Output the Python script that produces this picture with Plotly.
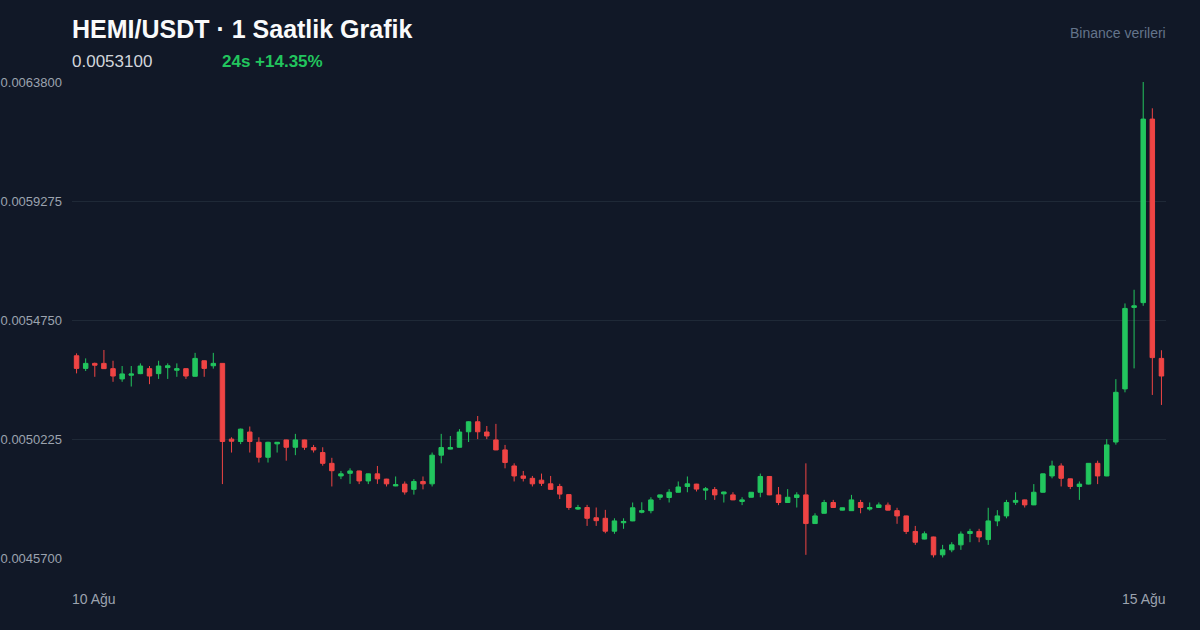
import plotly.graph_objects as go
import pandas as pd

# ---- data ----
opens = [0.005339,0.005291,0.005310,0.005310,0.005290,0.005251,0.005265,0.005271,0.005290,0.005271,
         0.005294,0.005284,0.005290,0.005261,0.005320,0.005301,0.005310,0.005022,0.005013,0.005049,
         0.005010,0.004953,0.005004,0.005019,0.004991,0.005019,0.004990,0.004971,0.004930,0.004882,
         0.004892,0.004901,0.004863,0.004890,0.004870,0.004844,0.004851,0.004831,0.004861,0.004852,
         0.004961,0.004984,0.004991,0.005050,0.005088,0.005049,0.005019,0.004981,0.004920,0.004882,
         0.004873,0.004866,0.004852,0.004842,0.004811,0.004756,0.004762,0.004723,0.004721,0.004672,
         0.004704,0.004711,0.004744,0.004750,0.004801,0.004800,0.004820,0.004842,0.004851,0.004828,
         0.004830,0.004814,0.004810,0.004785,0.004801,0.004820,0.004880,0.004810,0.004781,0.004800,
         0.004810,0.004701,0.004740,0.004781,0.004752,0.004750,0.004781,0.004756,0.004762,0.004771,
         0.004750,0.004730,0.004671,0.004642,0.004650,0.004582,0.004601,0.004620,0.004663,0.004671,
         0.004640,0.004711,0.004730,0.004782,0.004791,0.004772,0.004820,0.004882,0.004920,0.004871,
         0.004842,0.004851,0.004930,0.004882,0.005011,0.005213,0.005523,0.005541,0.006239,0.005329]
highs = [0.005348,0.005329,0.005313,0.005361,0.005320,0.005300,0.005300,0.005310,0.005300,0.005320,
         0.005310,0.005310,0.005291,0.005350,0.005321,0.005350,0.005311,0.005029,0.005062,0.005070,
         0.005029,0.005012,0.005011,0.005020,0.005042,0.005020,0.005000,0.004991,0.004951,0.004901,
         0.004911,0.004902,0.004891,0.004920,0.004871,0.004880,0.004861,0.004870,0.004880,0.004971,
         0.005042,0.005034,0.005060,0.005090,0.005110,0.005072,0.005080,0.005000,0.004930,0.004901,
         0.004882,0.004891,0.004882,0.004852,0.004812,0.004772,0.004772,0.004762,0.004753,0.004721,
         0.004721,0.004781,0.004782,0.004801,0.004811,0.004832,0.004861,0.004880,0.004852,0.004840,
         0.004840,0.004822,0.004820,0.004801,0.004821,0.004891,0.004881,0.004840,0.004832,0.004820,
         0.004930,0.004740,0.004791,0.004791,0.004762,0.004810,0.004791,0.004781,0.004781,0.004781,
         0.004761,0.004731,0.004692,0.004671,0.004651,0.004620,0.004630,0.004671,0.004681,0.004681,
         0.004761,0.004752,0.004791,0.004820,0.004792,0.004851,0.004891,0.004940,0.004930,0.004872,
         0.004861,0.004931,0.004940,0.005022,0.005250,0.005538,0.005590,0.006381,0.006280,0.005360]
lows = [0.005272,0.005281,0.005259,0.005289,0.005240,0.005240,0.005222,0.005269,0.005231,0.005251,
        0.005251,0.005259,0.005251,0.005260,0.005259,0.005290,0.004851,0.004971,0.005003,0.004971,
        0.004933,0.004933,0.004971,0.004940,0.004961,0.004981,0.004971,0.004921,0.004842,0.004870,
        0.004852,0.004851,0.004851,0.004852,0.004842,0.004843,0.004811,0.004811,0.004831,0.004842,
        0.004930,0.004983,0.004990,0.005011,0.005022,0.005022,0.004980,0.004911,0.004861,0.004861,
        0.004842,0.004844,0.004830,0.004794,0.004753,0.004753,0.004692,0.004692,0.004664,0.004662,
        0.004681,0.004710,0.004740,0.004740,0.004791,0.004781,0.004819,0.004820,0.004823,0.004791,
        0.004791,0.004781,0.004790,0.004771,0.004800,0.004801,0.004809,0.004771,0.004780,0.004762,
        0.004582,0.004700,0.004739,0.004761,0.004751,0.004749,0.004740,0.004750,0.004761,0.004751,
        0.004700,0.004661,0.004620,0.004641,0.004572,0.004572,0.004592,0.004601,0.004630,0.004630,
        0.004620,0.004691,0.004721,0.004772,0.004762,0.004771,0.004819,0.004873,0.004842,0.004832,
        0.004791,0.004850,0.004851,0.004881,0.005001,0.005200,0.005291,0.005529,0.005190,0.005152]
closes = [0.005291,0.005310,0.005303,0.005290,0.005262,0.005270,0.005270,0.005300,0.005262,0.005300,
          0.005301,0.005290,0.005262,0.005329,0.005291,0.005310,0.005013,0.005014,0.005060,0.005013,
          0.004953,0.005010,0.005010,0.004991,0.005019,0.004991,0.004981,0.004930,0.004902,0.004890,
          0.004901,0.004863,0.004890,0.004871,0.004852,0.004849,0.004821,0.004861,0.004852,0.004961,
          0.004990,0.004990,0.005049,0.005088,0.005050,0.005034,0.004981,0.004933,0.004882,0.004873,
          0.004852,0.004854,0.004831,0.004813,0.004762,0.004762,0.004721,0.004712,0.004672,0.004711,
          0.004709,0.004761,0.004750,0.004791,0.004810,0.004820,0.004840,0.004852,0.004832,0.004833,
          0.004810,0.004821,0.004791,0.004791,0.004820,0.004880,0.004810,0.004781,0.004801,0.004810,
          0.004701,0.004730,0.004781,0.004762,0.004761,0.004791,0.004762,0.004762,0.004772,0.004752,
          0.004730,0.004671,0.004630,0.004662,0.004582,0.004601,0.004620,0.004661,0.004671,0.004650,
          0.004711,0.004730,0.004781,0.004789,0.004772,0.004820,0.004890,0.004920,0.004873,0.004842,
          0.004851,0.004930,0.004882,0.005000,0.005200,0.005519,0.005529,0.006239,0.005332,0.005262]

times = pd.date_range("2025-08-10 10:00", periods=len(opens), freq="h")

y_ticks = [0.00457, 0.0050225, 0.005475, 0.0059275, 0.00638]
y_tick_labels = ["0.0045700", "0.0050225", "0.0054750", "0.0059275", "0.0063800"]
x_labels = ["10 Ağu", "15 Ağu"]

title_text = "HEMI/USDT · 1 Saatlik Grafik"
price_text = "0.0053100"
change_text = "24s +14.35%"
source_text = "Binance verileri"

UP = "#22c55e"
DOWN = "#ef4444"
BG = "#111827"
GRID = "#1f2937"
FONT = "Liberation Sans, Arial, sans-serif"

fig = go.Figure(go.Candlestick(
    x=times, open=opens, high=highs, low=lows, close=closes,
    increasing=dict(line=dict(color=UP, width=1), fillcolor=UP),
    decreasing=dict(line=dict(color=DOWN, width=1), fillcolor=DOWN),
    whiskerwidth=0, hoverinfo="skip",
))


def note(text, x, y, xanchor, size, color):
    return dict(text=text, xref="paper", yref="paper", x=x, y=y,
                xanchor=xanchor, yanchor="middle", showarrow=False,
                borderpad=0, borderwidth=0,
                font=dict(size=size, color=color, family=FONT))


half = pd.Timedelta(minutes=30)
fig.update_layout(
    width=1200, height=630,
    paper_bgcolor=BG, plot_bgcolor=BG,
    margin=dict(l=72, r=34, t=82, b=72),
    showlegend=False,
    font=dict(family=FONT, color="#9ca3af"),
    xaxis=dict(range=[times[0] - half, times[-1] + half], showgrid=False,
               showticklabels=False, zeroline=False, showline=False,
               rangeslider=dict(visible=False), fixedrange=True),
    yaxis=dict(range=[y_ticks[0], y_ticks[-1]], tickvals=y_ticks, ticktext=y_tick_labels,
               showgrid=True, gridcolor=GRID, gridwidth=1, zeroline=False, showline=False,
               ticks="", ticklabelstandoff=9, automargin=False,
               tickfont=dict(size=13, color="#9ca3af", family=FONT), fixedrange=True),
    annotations=[
        note("<b>" + title_text + "</b>", 0, 1.1113, "left", 25, "#f9fafb"),
        note(price_text, 0, 1.0441, "left", 17, "#d1d5db"),
        note("<b>" + change_text + "</b>", 0.1371, 1.0441, "left", 17, UP),
        note(source_text, 1, 1.1029, "right", 14, "#64748b"),
        note(x_labels[0], 0, -0.0861, "left", 14, "#9ca3af"),
        note(x_labels[1], 1, -0.0861, "right", 14, "#9ca3af"),
    ],
)

fig.write_html(
    "out.html",
    config={"displayModeBar": False},
    post_script="document.body.style.margin='0';document.body.style.background='#111827';",
)
